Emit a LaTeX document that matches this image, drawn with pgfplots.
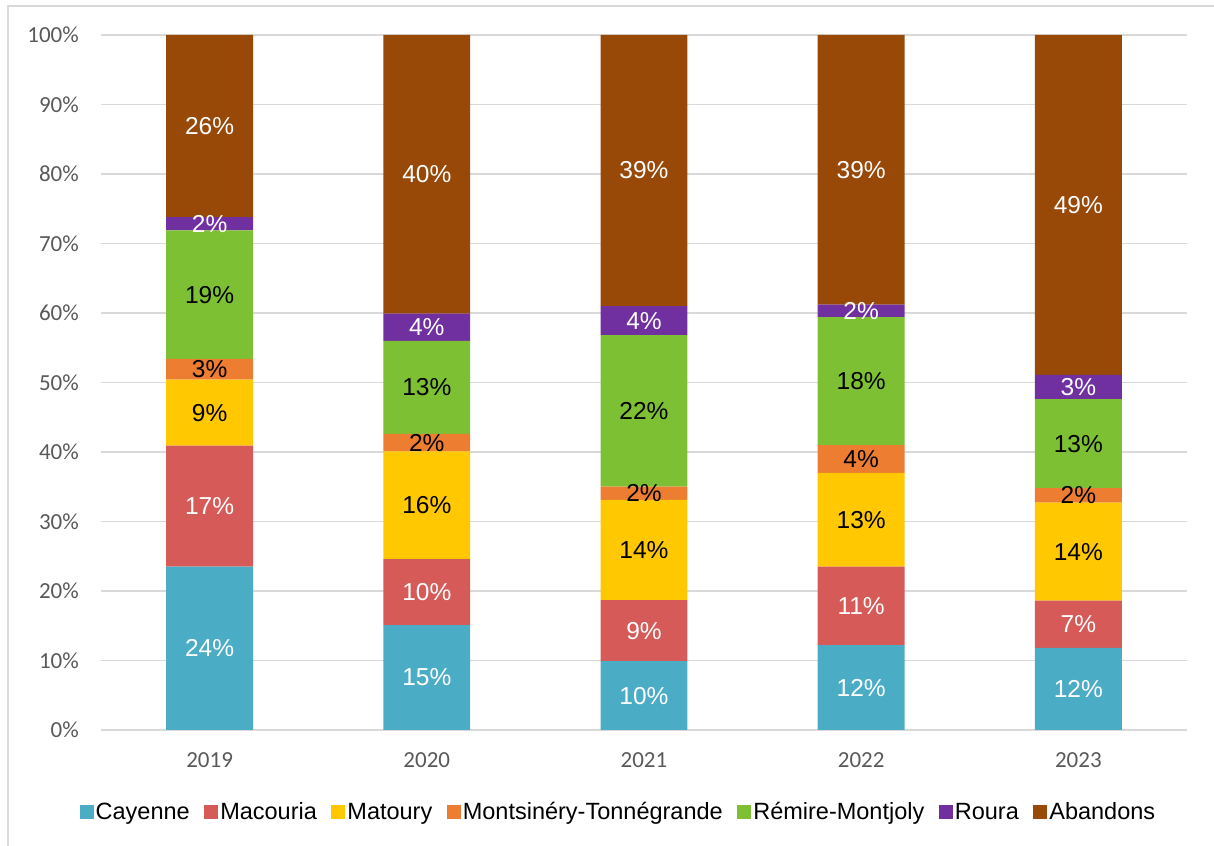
\documentclass[border=0pt]{standalone}
\usepackage{pgfplots}
\pgfplotsset{compat=1.18}
\usepackage{pgfplotstable}
\usepackage{fontspec}
\setmainfont{Liberation Sans}
\newfontfamily\carlito{Carlito}
\definecolor{cCay}{HTML}{4BACC6}
\definecolor{cMac}{HTML}{D55A58}
\definecolor{cMat}{HTML}{FFC800}
\definecolor{cMon}{HTML}{ED7D31}
\definecolor{cRem}{HTML}{7DC034}
\definecolor{cRou}{HTML}{7030A0}
\definecolor{cAba}{HTML}{984807}
\definecolor{gridc}{HTML}{D9D9D9}
\definecolor{tickc}{HTML}{595959}

\pgfplotstableread{
x cay cayl mac macl mat matl mon monl rem reml rou roul aba abal
0 23.5 24 17.4 17 9.5 9 3.0 3 18.5 19 1.9 2 26.2 26
1 15.1 15 9.5 10 15.5 16 2.5 2 13.4 13 3.9 4 40.1 40
2 9.9 10 8.8 9 14.4 14 1.9 2 21.8 22 4.2 4 39.0 39
3 12.2 12 11.3 11 13.5 13 4.0 4 18.4 18 1.8 2 38.8 39
4 11.8 12 6.8 7 14.1 14 2.1 2 12.8 13 3.5 3 48.9 49
}\data

\begin{document}
\begin{tikzpicture}[x=1bp,y=1bp]
\path[use as bounding box] (0,0) rectangle (1214,846);
\draw[gridc, line width=2bp] (8,0) -- (8,840) -- (1214,840);
\begin{axis}[
  at={(101bp,116bp)}, anchor=south west,
  scale only axis, width=1086bp, height=695bp,
  ybar stacked, bar width=0.4,
  xmin=-0.5, xmax=4.5, ymin=0, ymax=100,
  xtick={0,1,2,3,4}, xticklabels={2019,2020,2021,2022,2023},
  ytick={0,10,...,100},
  yticklabels={0\%,10\%,20\%,30\%,40\%,50\%,60\%,70\%,80\%,90\%,100\%},
  ymajorgrids, grid style={gridc, line width=1.3bp},
  axis lines*=left,
  y axis line style={draw=none},
  x axis line style={gridc, line width=1.3bp},
  major tick length=0pt, tick style={draw=none},
  yticklabel style={font=\carlito\fontsize{23bp}{27bp}\selectfont, text=tickc, anchor=east, inner sep=0pt, xshift=-22bp},
  xticklabel style={font=\carlito\fontsize{23bp}{27bp}\selectfont, text=tickc, anchor=north, inner sep=0pt, yshift=-22bp},
  point meta=explicit symbolic,
  nodes near coords={\pgfplotspointmeta\%},
  every node near coord/.append style={font=\fontsize{24.5bp}{28bp}\selectfont, anchor=center, inner sep=0pt},
  legend image code/.code={\fill[#1] (0bp,-7bp) rectangle (14bp,7bp);},
  legend style={at={(0.4765,-0.118)}, anchor=center, draw=none, fill=none,
    legend columns=-1, font=\fontsize{23.5bp}{27bp}\selectfont,
    nodes={inner sep=2bp},
    /tikz/every even column/.append style={column sep=12.5bp}},
]
\addplot[fill=cCay, draw=none, nodes near coords style={text=white}] table[x=x, y=cay, meta=cayl] {\data};
\addplot[fill=cMac, draw=none, nodes near coords style={text=white}] table[x=x, y=mac, meta=macl] {\data};
\addplot[fill=cMat, draw=none, nodes near coords style={text=black}] table[x=x, y=mat, meta=matl] {\data};
\addplot[fill=cMon, draw=none, nodes near coords style={text=black}] table[x=x, y=mon, meta=monl] {\data};
\addplot[fill=cRem, draw=none, nodes near coords style={text=black}] table[x=x, y=rem, meta=reml] {\data};
\addplot[fill=cRou, draw=none, nodes near coords style={text=white}] table[x=x, y=rou, meta=roul] {\data};
\addplot[fill=cAba, draw=none, nodes near coords style={text=white}] table[x=x, y=aba, meta=abal] {\data};
\legend{Cayenne,Macouria,Matoury,Montsinéry-Tonnégrande,Rémire-Montjoly,Roura,Abandons}
\end{axis}
\end{tikzpicture}
\end{document}
